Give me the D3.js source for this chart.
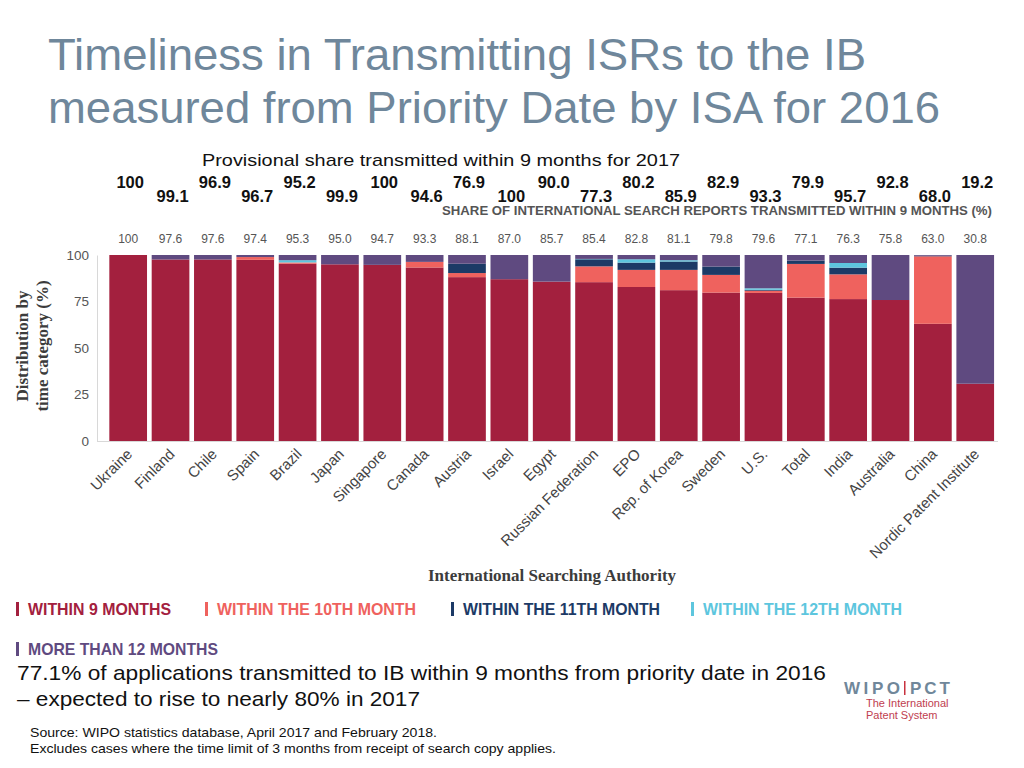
<!DOCTYPE html>
<html><head><meta charset="utf-8">
<script src="https://cdn.jsdelivr.net/npm/d3@7"></script>
<style>body{margin:0;background:#fff}svg{display:block}</style>
</head><body>
<svg id="c" width="1024" height="768"></svg>
<script>
const categories = ["Ukraine","Finland","Chile","Spain","Brazil","Japan","Singapore","Canada","Austria","Israel","Egypt","Russian Federation","EPO","Rep. of Korea","Sweden","U.S.","Total","India","Australia","China","Nordic Patent Institute"];
const within9  = [100,97.6,97.6,97.4,95.3,95.0,94.7,93.3,88.1,87.0,85.7,85.4,82.8,81.1,79.8,79.6,77.1,76.3,75.8,63.0,30.8];
const within10 = [0,0,0,1.5,0.7,0,0,3.0,2.2,0,0,8.5,9.2,10.9,9.5,1.2,18.1,13.3,0,36.3,0];
const within11 = [0,0,0,0,0,0,0,0,5.0,0,0,3.8,3.9,4.5,4.5,0.5,1.8,3.6,0,0.3,0];
const within12 = [0,0,0,0,1.2,0,0,0,0,0,0,0.2,1.8,0.7,0,0.8,0,2.5,0,0,0];
const over12   = [0,2.4,2.4,1.1,2.8,5.0,5.3,3.7,4.7,13.0,14.3,2.1,2.3,2.8,6.2,17.9,3.0,4.3,24.2,0.4,69.2];
const share2016Labels = ["100","97.6","97.6","97.4","95.3","95.0","94.7","93.3","88.1","87.0","85.7","85.4","82.8","81.1","79.8","79.6","77.1","76.3","75.8","63.0","30.8"];
const provisional2017 = ["100","99.1","96.9","96.7","95.2","99.9","100","94.6","76.9","100","90.0","77.3","80.2","85.9","82.9","93.3","79.9","95.7","92.8","68.0","19.2"];
const yTicks = [0,25,50,75,100];
const seriesNames = ["WITHIN 9 MONTHS","WITHIN THE 10TH MONTH","WITHIN THE 11TH MONTH","WITHIN THE 12TH MONTH","MORE THAN 12 MONTHS"];
const seriesColors = ["#a3203e","#ef625e","#1c3a66","#5dc6de","#5f4a80"];

const svg = d3.select("#c");
const keys = ["w9","w10","w11","w12","o12"];
const rows = categories.map((c,i)=>({cat:c,w9:within9[i],w10:within10[i],w11:within11[i],w12:within12[i],o12:over12[i]}));
const stacked = d3.stack().keys(keys)(rows);

const x = d3.scaleBand().domain(categories).range([107,996.4]).paddingInner(0.11).paddingOuter(0.055);
const y = d3.scaleLinear().domain([0,100]).range([441,255]);

// Title
const title = svg.append("g").attr("fill","#6f879b").style("font-family","'Liberation Sans',Arial,sans-serif").style("font-size","45px");
title.append("text").attr("x",48).attr("y",70).attr("textLength",818).attr("lengthAdjust","spacingAndGlyphs").text("Timeliness in Transmitting ISRs to the IB");
title.append("text").attr("x",48).attr("y",123).attr("textLength",892).attr("lengthAdjust","spacingAndGlyphs").text("measured from Priority Date by ISA for 2016");

svg.append("text").attr("x",202).attr("y",166).attr("textLength",478).attr("lengthAdjust","spacingAndGlyphs")
  .style("font-family","'Liberation Sans',Arial,sans-serif").style("font-size","17px").attr("fill","#111")
  .text("Provisional share transmitted within 9 months for 2017");

// provisional numbers
svg.append("g").selectAll("text").data(provisional2017).join("text")
  .attr("x",(d,i)=>x(categories[i])+x.bandwidth()/2+2)
  .attr("y",(d,i)=>i%2===0?188:202)
  .attr("text-anchor","middle")
  .style("font-family","'Liberation Sans',Arial,sans-serif").style("font-size","16.5px").style("font-weight","bold")
  .attr("fill","#111").text(d=>d);

svg.append("text").attr("x",442).attr("y",215).attr("textLength",550).attr("lengthAdjust","spacingAndGlyphs")
  .style("font-family","'Liberation Sans Narrow','Liberation Sans',sans-serif").style("font-size","13px").style("font-weight","bold")
  .attr("fill","#555").text("SHARE OF INTERNATIONAL SEARCH REPORTS TRANSMITTED WITHIN 9 MONTHS (%)");

svg.append("g").selectAll("text").data(share2016Labels).join("text")
  .attr("x",(d,i)=>x(categories[i])+x.bandwidth()/2)
  .attr("y",243).attr("text-anchor","middle")
  .style("font-family","'Liberation Sans',Arial,sans-serif").style("font-size","12px")
  .attr("fill","#555").text(d=>d);

// Bars
svg.append("g").selectAll("g").data(stacked).join("g")
  .attr("fill",(d,i)=>seriesColors[i])
  .selectAll("rect").data(d=>d).join("rect")
  .attr("x",d=>x(d.data.cat)).attr("width",x.bandwidth())
  .attr("y",d=>y(d[1])).attr("height",d=>Math.max(0,y(d[0])-y(d[1])));

// Y axis
const ya = svg.append("g").attr("transform","translate(97,0)")
  .call(d3.axisLeft(y).tickValues(yTicks).tickSize(0).tickPadding(8).tickSizeOuter(0));
ya.select(".domain").attr("stroke","#d8d8d8");
ya.selectAll("text").style("font-family","'Liberation Sans',Arial,sans-serif").style("font-size","13.5px").attr("fill","#555");

// X axis
const xa = svg.append("g").attr("transform","translate(0,441)")
  .call(d3.axisBottom(x).tickSize(0).tickSizeOuter(0));
xa.select(".domain").remove();
xa.selectAll("text").attr("x",0).attr("y",0).attr("dy",0)
  .attr("transform","translate(5,14) rotate(-45)").attr("text-anchor","end")
  .style("font-family","'Liberation Sans',Arial,sans-serif").style("font-size","15px").attr("fill","#444");
svg.append("line").attr("x1",97).attr("x2",998).attr("y1",441.5).attr("y2",441.5).attr("stroke","#d8d8d8");

// Axis titles
const serif = "'Liberation Serif','Times New Roman',serif";
const yt = svg.append("g").attr("transform","translate(28,346) rotate(-90)").attr("fill","#3c3c3c")
  .style("font-family",serif).style("font-size","17px").style("font-weight","bold").attr("text-anchor","middle");
yt.append("text").attr("x",0).attr("y",0).text("Distribution by");
yt.append("text").attr("x",0).attr("y",20).text("time category (%)");
svg.append("text").attr("x",552).attr("y",581).attr("text-anchor","middle").attr("fill","#3c3c3c")
  .style("font-family",serif).style("font-size","17px").style("font-weight","bold").text("International Searching Authority");

// Legend
const legendPos = [[16,615,143],[205,615,199],[451,615,197],[691,615,199],[16,655,190]];
const lg = svg.append("g").selectAll("g").data(seriesNames).join("g")
  .attr("transform",(d,i)=>`translate(${legendPos[i][0]},${legendPos[i][1]})`);
lg.append("rect").attr("x",0).attr("y",-13).attr("width",3).attr("height",14).attr("fill",(d,i)=>seriesColors[i]);
lg.append("text").attr("x",12).attr("y",0).attr("textLength",(d,i)=>legendPos[i][2]).attr("lengthAdjust","spacingAndGlyphs")
  .style("font-family","'Liberation Sans Narrow','Liberation Sans',sans-serif").style("font-size","17px").style("font-weight","bold")
  .attr("fill",(d,i)=>seriesColors[i]).text(d=>d);

// Bottom note
const note = svg.append("g").attr("fill","#111").style("font-family","'Liberation Sans',Arial,sans-serif").style("font-size","21px");
note.append("text").attr("x",17).attr("y",680).attr("textLength",809).attr("lengthAdjust","spacingAndGlyphs")
  .text("77.1% of applications transmitted to IB within 9 months from priority date in 2016");
note.append("text").attr("x",17).attr("y",706).attr("textLength",403).attr("lengthAdjust","spacingAndGlyphs")
  .text("– expected to rise to nearly 80% in 2017");
const src = svg.append("g").attr("fill","#111").style("font-family","'Liberation Sans',Arial,sans-serif").style("font-size","13px");
src.append("text").attr("x",30).attr("y",737).attr("textLength",407).attr("lengthAdjust","spacingAndGlyphs")
  .text("Source: WIPO statistics database, April 2017 and February 2018.");
src.append("text").attr("x",30).attr("y",753).attr("textLength",526).attr("lengthAdjust","spacingAndGlyphs")
  .text("Excludes cases where the time limit of 3 months from receipt of search copy applies.");

// Logo
const logo = svg.append("g").style("font-family","'Liberation Sans',Arial,sans-serif");
logo.append("text").attr("x",844).attr("y",694).attr("textLength",56).attr("lengthAdjust","spacing")
  .style("font-size","17px").style("font-weight","bold").attr("fill","#70879a").text("WIPO");
logo.append("rect").attr("x",904).attr("y",681).attr("width",1.5).attr("height",14).attr("fill","#c8323f");
logo.append("text").attr("x",910).attr("y",694).attr("textLength",40).attr("lengthAdjust","spacing")
  .style("font-size","17px").style("font-weight","bold").attr("fill","#70879a").text("PCT");
logo.append("text").attr("x",866).attr("y",707).style("font-size","11px").attr("fill","#c0404f").text("The International");
logo.append("text").attr("x",866).attr("y",719).style("font-size","11px").attr("fill","#c0404f").text("Patent System");
</script>
</body></html>
